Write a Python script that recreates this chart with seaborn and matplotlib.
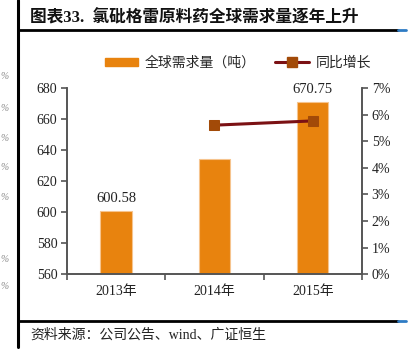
import matplotlib
matplotlib.use("Agg")
import matplotlib.pyplot as plt
import matplotlib.lines as mlines
import matplotlib.patches as mpatches
import pandas as pd
import seaborn as sns

years = ['2013年', '2014年', '2015年']
demand = [600.58, 634.2, 670.75]
growth_years = [1, 2]
growth = [5.6, 5.76]
bar_labels = ['600.58', '', '670.75']

sns.set_style('white')
plt.rcParams['font.family'] = ['Liberation Serif', 'Noto Sans CJK SC', 'DejaVu Sans']
plt.rcParams['axes.unicode_minus'] = False

bar_c = '#E8830E'
line_c = '#7B1114'
mark_c = '#A24A08'

fig = plt.figure(figsize=(4.16, 3.56), dpi=100)
ax = fig.add_axes([0.161, 0.230, 0.709, 0.523])

df = pd.DataFrame({'year': years, 'demand': demand})
sns.barplot(data=df, x='year', y='demand', color=bar_c, width=0.32,
            saturation=1, edgecolor='#F6C48E', linewidth=0.8, ax=ax)
ax.set_ylim(560, 680)
ax.set_yticks(range(560, 681, 20))
ax.set_xlabel('')
ax.set_ylabel('')

for i, (v, t) in enumerate(zip(demand, bar_labels)):
    if t:
        ax.text(i, v + 4, t, ha='center', va='bottom', fontsize=10.5,
                color='#222222', clip_on=False)

ax2 = ax.twinx()
gdf = pd.DataFrame({'x': growth_years, 'g': growth})
sns.lineplot(data=gdf, x='x', y='g', color=line_c, linewidth=2.2,
             marker='s', markersize=7, markerfacecolor=mark_c,
             markeredgecolor=mark_c, ax=ax2)
ax2.set_ylim(0, 7)
ax2.set_yticks(range(0, 8))
ax2.set_yticklabels([f'{i}%' for i in range(0, 8)])
ax2.set_ylabel('')
ax2.set_xlabel('')
ax.set_xlim(-0.5, 2.5)

spine_c = '#555555'
for a in (ax, ax2):
    a.spines['top'].set_visible(False)
    for s in ('left', 'right', 'bottom'):
        a.spines[s].set_color(spine_c)
        a.spines[s].set_linewidth(1.2)
    a.tick_params(axis='y', length=4, width=1.2, color=spine_c, labelsize=10,
                  labelcolor='#222222', pad=3)
    a.grid(False)
ax.set_xticks([-0.5, 0.5, 1.5, 2.5], minor=True)
ax.tick_params(axis='x', which='major', length=0, labelsize=10,
               labelcolor='#222222', pad=8)
ax.tick_params(axis='x', which='minor', length=4, width=1.2, color=spine_c,
               direction='out', bottom=True)
ax.tick_params(axis='y', direction='out', left=True)
ax2.tick_params(axis='y', direction='out', right=True)

h1 = mpatches.Patch(color=bar_c, label='全球需求量（吨）')
h2 = mlines.Line2D([], [], color=line_c, linewidth=2.2, marker='s',
                   markersize=7, markerfacecolor=mark_c,
                   markeredgecolor=mark_c, label='同比增长')
fig.legend(handles=[h1, h2], loc='center', bbox_to_anchor=(0.572, 0.823),
           ncol=2, frameon=False, fontsize=10, handlelength=2.4,
           handleheight=0.45, columnspacing=1.4, handletextpad=0.5)

# frame lines of the report page
fig.add_artist(mlines.Line2D([0.044, 0.044], [1.0, 0.025], color='black', lw=2.2))
fig.add_artist(mlines.Line2D([0.044, 0.957], [0.916, 0.916], color='black', lw=2))
fig.add_artist(mlines.Line2D([0.957, 0.975], [0.916, 0.916], color='#2E7BC4', lw=2))
fig.add_artist(mlines.Line2D([0.044, 0.957], [0.098, 0.098], color='black', lw=2))
fig.add_artist(mlines.Line2D([0.957, 0.975], [0.098, 0.098], color='#2E7BC4', lw=2))

fig.text(0.072, 0.950, '图表33.  氯砒格雷原料药全球需求量逐年上升', fontsize=12,
         fontweight='bold', va='center', ha='left', color='#111111')
fig.text(0.072, 0.060, '资料来源：公司公告、wind、广证恒生', fontsize=10,
         va='center', ha='left', color='#222222')

# labels of the neighbouring chart, cut at the page edge
for yy in [0.785, 0.695, 0.61, 0.53, 0.445, 0.27, 0.195]:
    fig.text(0.002, yy, '%', fontsize=7, color='#888888', ha='left',
             va='center', style='italic')

fig.savefig('out.png', dpi=100)
